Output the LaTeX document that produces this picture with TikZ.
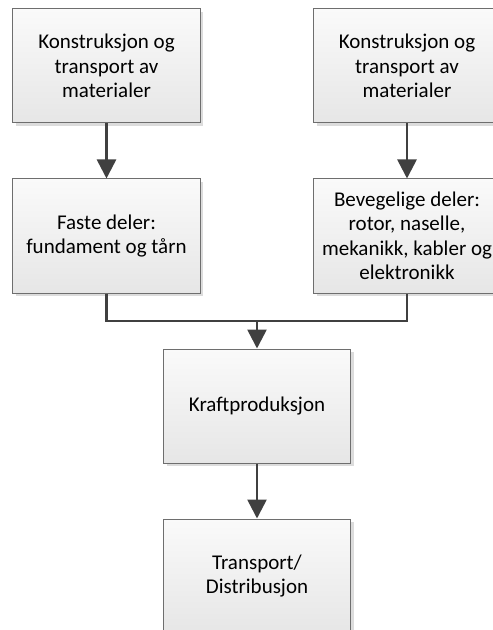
\documentclass[tikz,border=0pt]{standalone}
\usepackage{fontspec}
\setmainfont{Carlito}
\usetikzlibrary{arrows.meta,shadows}

\definecolor{boxedge}{HTML}{6E6E6E}
\definecolor{boxtop}{HTML}{FAFAFA}
\definecolor{boxbottom}{HTML}{E6E6E6}
\definecolor{shadowgray}{HTML}{DCDCDC}
\definecolor{linkgray}{HTML}{404040}

\tikzset{
  stagebox/.style={
    draw=boxedge, line width=1bp,
    top color=boxtop, bottom color=boxbottom,
    minimum width=187bp, minimum height=114bp,
    inner sep=0pt, align=center,
    font=\fontsize{21bp}{24.5bp}\selectfont,
    drop shadow={shadow xshift=3bp, shadow yshift=-3bp,
                 fill=shadowgray, opacity=1}
  },
  link/.style={
    draw=linkgray, line width=2.6bp,
    -{Triangle[width=19bp,length=19bp]}
  },
  joinline/.style={draw=linkgray, line width=2.6bp}
}

\begin{document}
\begin{tikzpicture}[x=1bp, y=-1bp]
  \useasboundingbox (0,0) rectangle (493,630);
  \clip (0,0) rectangle (493,630);

  % supply chain stages
  \node[stagebox] (matA) at (106.5,66) {Konstruksjon og\\transport av\\materialer};
  \node[stagebox] (matB) at (407,66) {Konstruksjon og\\transport av\\materialer};
  \node[stagebox] (fixed) at (106.5,236) {Faste deler:\\fundament og tårn};
  \node[stagebox] (moving) at (407,236) {Bevegelige deler:\\rotor, naselle,\\mekanikk, kabler og\\elektronikk};
  \node[stagebox] (power) at (257,406) {Kraftproduksjon};
  \node[stagebox] (dist) at (257,576) {Transport/\\Distribusjon};

  \coordinate (join) at (257,321);

  % connectors
  \draw[link] (matA) -- (fixed);
  \draw[link] (matB) -- (moving);
  \draw[joinline] (fixed.south) |- (join) -| (moving.south);
  \draw[link] (join) -- (power.north);
  \draw[link] (power) -- (dist);
\end{tikzpicture}
\end{document}
